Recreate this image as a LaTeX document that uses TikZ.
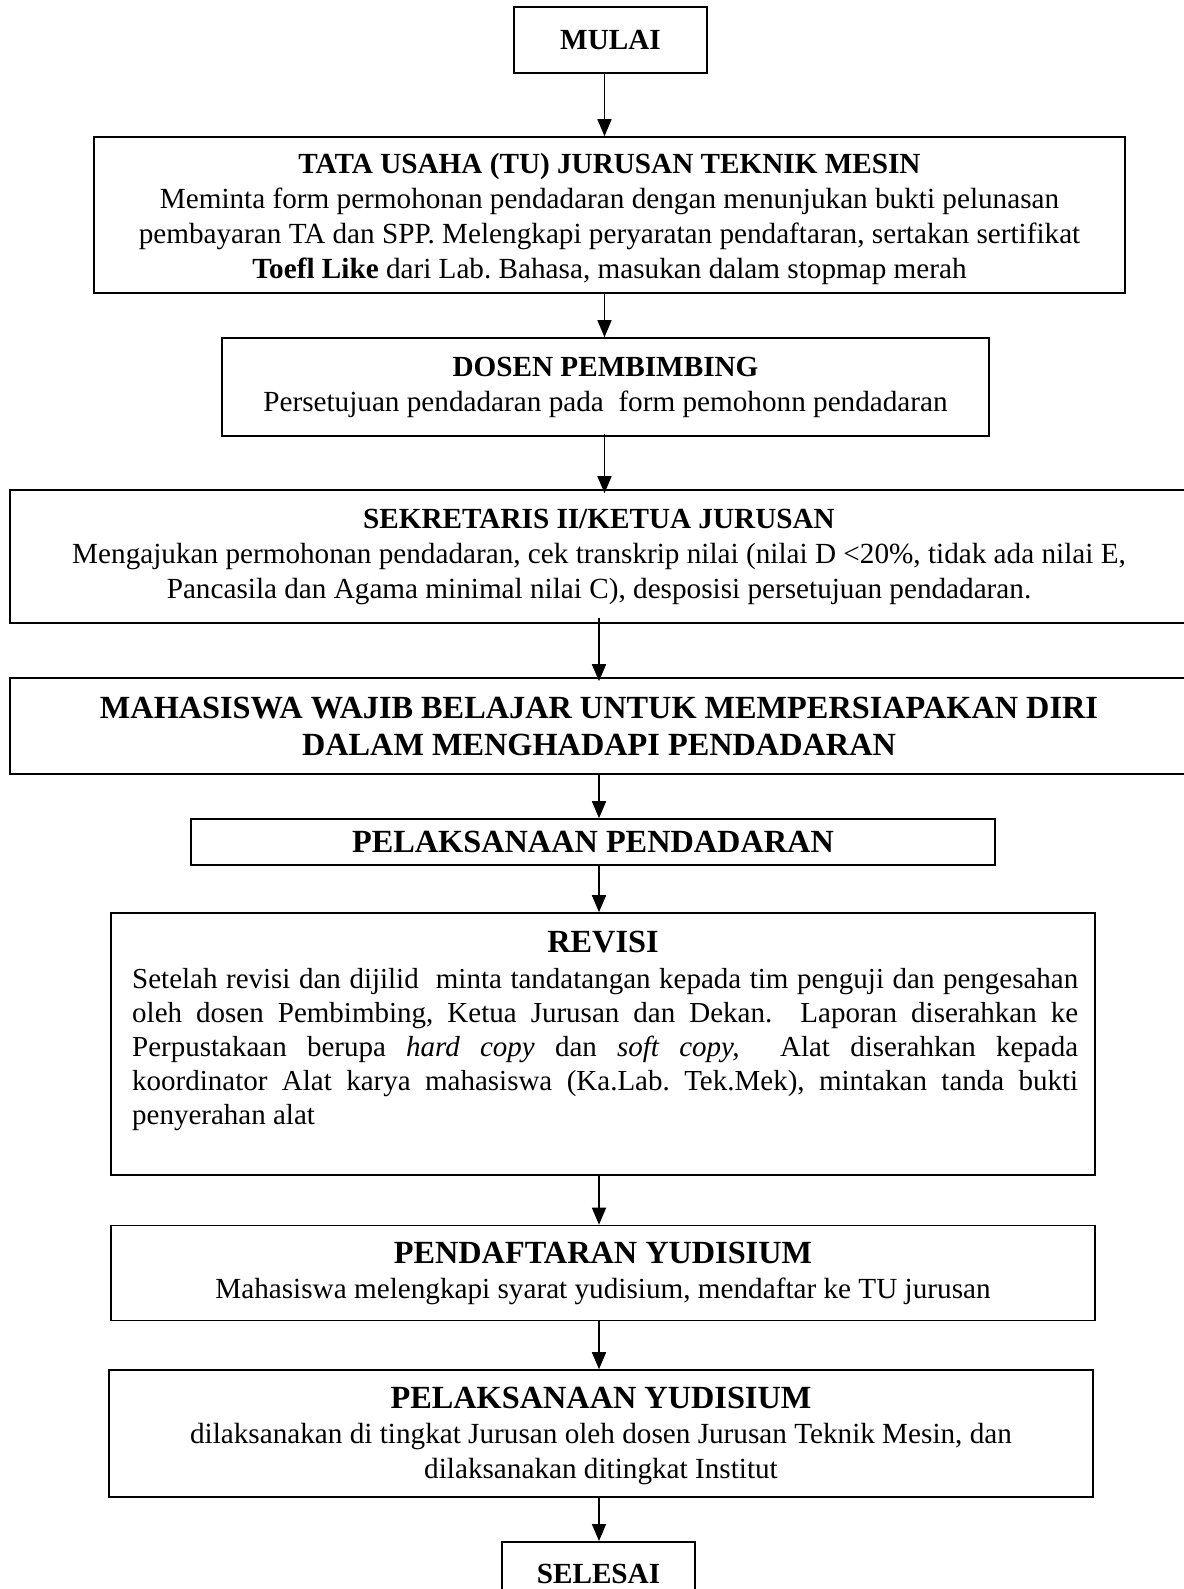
\documentclass[tikz,border=0pt]{standalone}
\usepackage{fontspec}
\setmainfont{Liberation Serif}
\usetikzlibrary{arrows.meta,calc}
\frenchspacing
\begin{document}
\begin{tikzpicture}[x=1pt,y=-1pt,
  box/.style={draw,line width=1.6pt,inner sep=0pt,align=center,font=\fontsize{29.2}{35}\selectfont},
  bigbox/.style={box,font=\fontsize{32.3}{37}\selectfont\bfseries},
  txt/.style={inner sep=0pt,font=\fontsize{29}{34}\selectfont},
  arr/.style={line width=1.6pt,-{Triangle[length=17pt,width=14pt]}}]
\useasboundingbox (0,0) rectangle (1183,1589);
\fill[white] (0,0) rectangle (1183,1589);
\coordinate (colA) at (604.5,0);
\coordinate (colB) at (599,0);

\node[box,minimum width=193pt,minimum height=66pt] (mulai) at (610.5,40) {\textbf{MULAI}};

\node[box,minimum width=1031pt,minimum height=156pt] (tu) at (609.5,215) {};
\node[inner sep=0pt,align=center,font=\fontsize{29.2}{35}\selectfont] (tutext) at (609.5,219)
 {\textbf{TATA USAHA (TU) JURUSAN TEKNIK MESIN}\\
  Meminta form permohonan pendadaran dengan menunjukan bukti pelunasan\\
  pembayaran TA dan SPP. Melengkapi peryaratan pendaftaran, sertakan sertifikat\\
  \textbf{Toefl Like} dari Lab. Bahasa, masukan dalam stopmap merah};

\node[box,minimum width=767pt,minimum height=98pt] (dosen) at (605.5,387)
 {\textbf{DOSEN PEMBIMBING}\\
  Persetujuan pendadaran pada\ \ form pemohonn pendadaran};

\node[box,minimum width=1178pt,minimum height=133pt] (sek) at (599,556.5)
 {\textbf{SEKRETARIS II/KETUA JURUSAN}\\
  Mengajukan permohonan pendadaran, cek transkrip nilai (nilai D <20\%, tidak ada nilai E,\\
  Pancasila dan Agama minimal nilai C), desposisi persetujuan pendadaran.};

\node[bigbox,minimum width=1178pt,minimum height=96pt] (mah) at (599,726)
 {MAHASISWA WAJIB BELAJAR UNTUK MEMPERSIAPAKAN DIRI\\
  DALAM MENGHADAPI PENDADARAN};

\node[bigbox,minimum width=804pt,minimum height=46pt] (pel) at (593,842)
 {PELAKSANAAN PENDADARAN};

\node[box,minimum width=984pt,minimum height=262pt] (rev) at (603,1044) {};
\node[inner sep=0pt,font=\fontsize{32.3}{37}\selectfont\bfseries] (revtitle) at (603,942) {REVISI};
\node[txt,anchor=base west,text width=946pt,align=justify] (revtext) at (132,988)
 {\emergencystretch=20pt
  Setelah revisi dan dijilid\ \ minta tandatangan kepada tim penguji dan pengesahan\linebreak
  oleh dosen Pembimbing, Ketua Jurusan dan Dekan.\ \ Laporan diserahkan ke\linebreak
  Perpustakaan berupa \textit{hard copy} dan \textit{soft copy,}\ \ Alat diserahkan kepada\linebreak
  koordinator Alat karya mahasiswa (Ka.Lab. Tek.Mek), mintakan tanda bukti\linebreak
  penyerahan alat};

\node[box,minimum width=984pt,minimum height=95pt] (pend) at (603,1273)
 {{\fontsize{32.3}{37}\selectfont\bfseries PENDAFTARAN YUDISIUM}\\
  Mahasiswa melengkapi syarat yudisium, mendaftar ke TU jurusan};

\node[box,minimum width=984pt,minimum height=127pt] (pely) at (601,1433.5) {};
\node[inner sep=0pt,align=center,font=\fontsize{29.2}{35}\selectfont] (pelytext) at (601,1436)
 {{\fontsize{32.3}{37}\selectfont\bfseries PELAKSANAAN YUDISIUM}\\
  dilaksanakan di tingkat Jurusan oleh dosen Jurusan Teknik Mesin, dan\\
  dilaksanakan ditingkat Institut};

\node[box,minimum width=193pt,minimum height=64pt,anchor=north] (selesai) at (598.5,1541) {\textbf{SELESAI}};

\draw[arr] (mulai.south -| colA) -- (tu.north -| colA);
\draw[arr] (tu.south -| colA) -- (dosen.north -| colA);
\draw[arr] ([yshift=3pt]dosen.south -| colA) -- ([yshift=-4pt]sek.north -| colA);
\draw[arr] ([yshift=6pt]sek.south -| colB) -- ([yshift=-4pt]mah.north -| colB);
\draw[arr] (mah.south -| colB) -- (pel.north -| colB);
\draw[arr] (pel.south -| colB) -- (rev.north -| colB);
\draw[arr] (rev.south -| colB) -- (pend.north -| colB);
\draw[arr] (pend.south -| colB) -- (pely.north -| colB);
\draw[arr] (pely.south -| colB) -- (selesai.north -| colB);
\end{tikzpicture}
\end{document}
